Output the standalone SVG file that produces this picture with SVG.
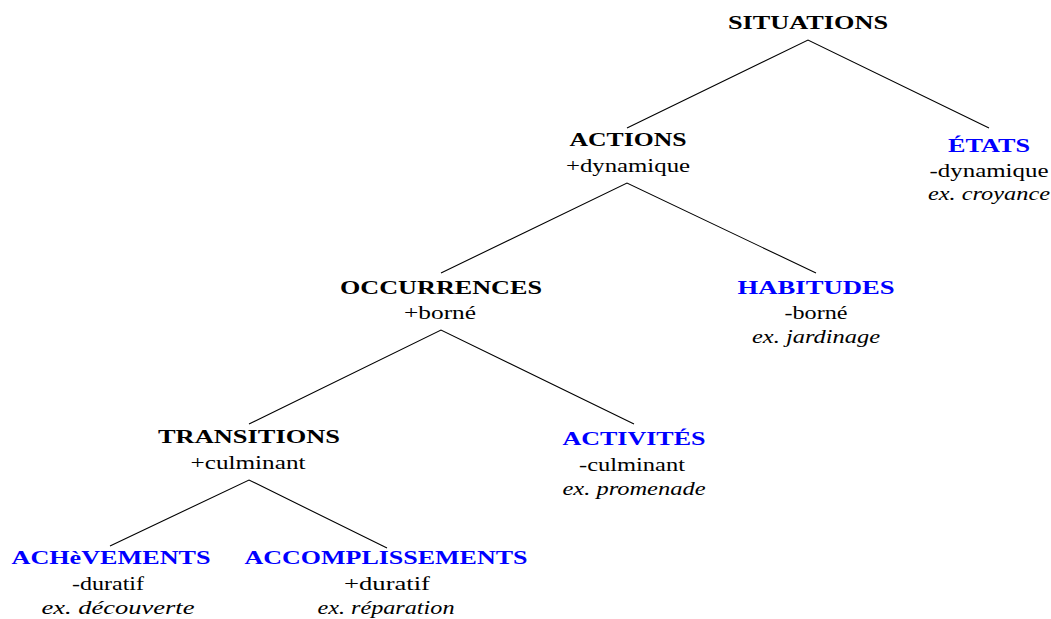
<svg xmlns="http://www.w3.org/2000/svg" width="1051" height="619" viewBox="0 0 1051 619">
<style>
text{font-family:"Liberation Serif","DejaVu Serif",serif;font-size:19px;text-anchor:middle;fill:#000}
.t{font-weight:bold}
.b{fill:#0000ff}
.i{font-style:italic}
.c{stroke:#000;stroke-width:1.1;fill:none}
</style>
<rect width="1051" height="619" fill="#fff"/>
<g id="connectors">
<path class="c" d="M627,128 L808,40 L989,128"/>
<path class="c" d="M441,273 L627,183 L816,273"/>
<path class="c" d="M249,424 L441,330 L634,424"/>
<path class="c" d="M110,546 L249,480 L387,548"/>
</g>
<g id="situations"><text class="t" x="808" y="29" textLength="160" lengthAdjust="spacingAndGlyphs">SITUATIONS</text></g>
<g id="actions"><text class="t" x="628" y="146" textLength="117" lengthAdjust="spacingAndGlyphs">ACTIONS</text><text x="628" y="172" textLength="124" lengthAdjust="spacingAndGlyphs">+dynamique</text></g>
<g id="etats"><text class="t b" x="989" y="152" textLength="82" lengthAdjust="spacingAndGlyphs">ÉTATS</text><text x="989" y="177" textLength="119" lengthAdjust="spacingAndGlyphs">-dynamique</text><text class="i" x="989" y="200" textLength="122" lengthAdjust="spacingAndGlyphs">ex. croyance</text></g>
<g id="occurrences"><text class="t" x="441" y="294" textLength="202" lengthAdjust="spacingAndGlyphs">OCCURRENCES</text><text x="440" y="319" textLength="72" lengthAdjust="spacingAndGlyphs">+borné</text></g>
<g id="habitudes"><text class="t b" x="816" y="294" textLength="157" lengthAdjust="spacingAndGlyphs">HABITUDES</text><text x="816" y="319" textLength="63" lengthAdjust="spacingAndGlyphs">-borné</text><text class="i" x="816" y="343" textLength="128" lengthAdjust="spacingAndGlyphs">ex. jardinage</text></g>
<g id="transitions"><text class="t" x="249" y="443" textLength="182" lengthAdjust="spacingAndGlyphs">TRANSITIONS</text><text x="248" y="469" textLength="115" lengthAdjust="spacingAndGlyphs">+culminant</text></g>
<g id="activites"><text class="t b" x="634" y="445" textLength="143" lengthAdjust="spacingAndGlyphs">ACTIVITÉS</text><text x="632" y="471" textLength="106" lengthAdjust="spacingAndGlyphs">-culminant</text><text class="i" x="634" y="495" textLength="143" lengthAdjust="spacingAndGlyphs">ex. promenade</text></g>
<g id="achevements"><text class="t b" x="111" y="564" textLength="199" lengthAdjust="spacingAndGlyphs">ACHèVEMENTS</text><text x="108" y="590" textLength="72" lengthAdjust="spacingAndGlyphs">-duratif</text><text class="i" x="118" y="614" textLength="153" lengthAdjust="spacingAndGlyphs">ex. découverte</text></g>
<g id="accomplissements"><text class="t b" x="386" y="564" textLength="283" lengthAdjust="spacingAndGlyphs">ACCOMPLISSEMENTS</text><text x="387" y="590" textLength="86" lengthAdjust="spacingAndGlyphs">+duratif</text><text class="i" x="386" y="614" textLength="137" lengthAdjust="spacingAndGlyphs">ex. réparation</text></g>
</svg>
